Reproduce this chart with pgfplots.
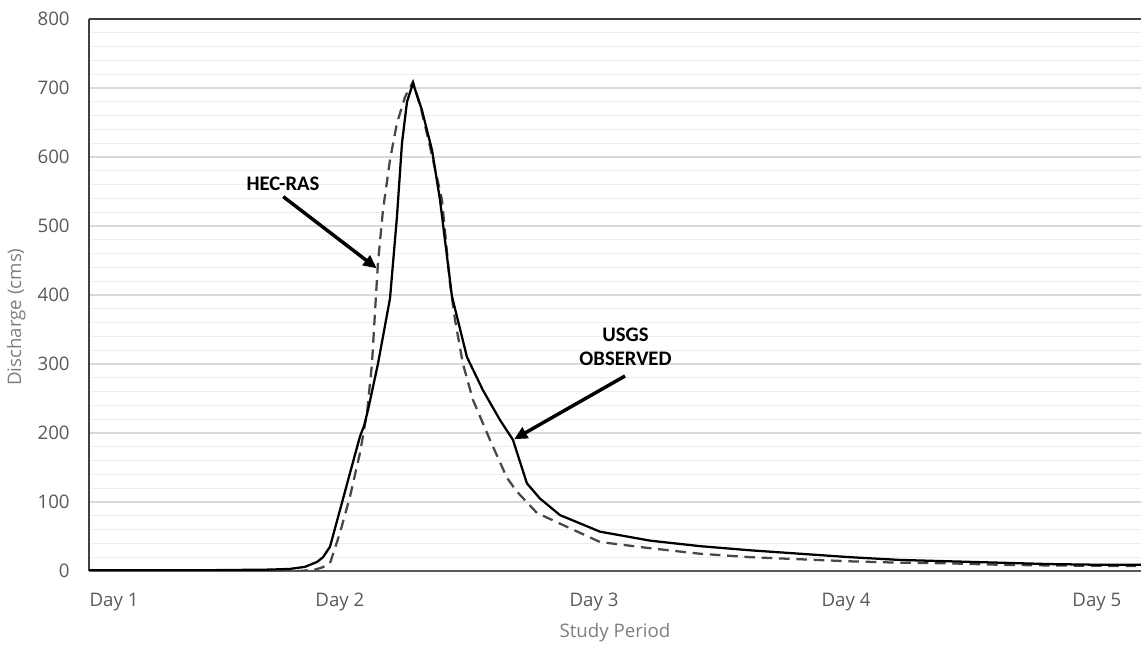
\documentclass[border=0pt]{standalone}
\usepackage{pgfplots}
\pgfplotsset{compat=1.18}
\usepackage{pgfplotstable}
\usetikzlibrary{arrows.meta}
\usepackage{fontspec}
\setmainfont{Open Sans}
\newfontfamily\annfont{Carlito}
\definecolor{tickgray}{HTML}{595959}
\definecolor{titlegray}{HTML}{7F7F7F}
\definecolor{majgrid}{HTML}{D9D9D9}
\definecolor{mingrid}{HTML}{EDEDED}
\definecolor{dashgray}{HTML}{474747}
\definecolor{framegray}{HTML}{404040}

\pgfplotstableread{
h q
0 1
10.57 1
17.24 2
19.14 3
20.57 6
21.71 13
22.29 20
22.95 35
23.90 88
24.86 142
25.81 195
26.19 210
26.57 233
27.52 300
28.67 395
29.33 513
29.81 620
30.29 680
30.86 707
31.71 668
32.67 610
33.43 538
34.57 398
36.00 310
37.52 262
39.14 219
40.38 190
41.71 127
42.95 105
44.86 81
48.67 57
53.43 44
58.19 36
62.95 30
67.71 25
72.48 20
77.24 16
82.00 14
86.76 12
91.52 10
96.29 9
100.2 9
}\observed

\pgfplotstableread{
h q
0 0
20.10 0
21.52 2
22.19 5
22.95 11
23.90 55
24.86 108
25.81 171
26.48 229
26.95 300
27.33 398
27.52 446
28.00 523
28.67 596
29.33 649
30.10 687
30.86 709
31.62 670
32.48 615
33.62 538
34.38 417
34.86 364
35.62 300
36.57 248
38.19 190
39.81 135
40.76 115
42.67 84
45.81 62
48.67 42
53.43 33
58.19 25
62.95 20
67.71 17
72.48 14
77.24 12
82.00 11
86.76 9
91.52 8
100.2 7
}\hecras

\begin{document}
\begin{tikzpicture}
\begin{axis}[
  scale only axis, width=789pt, height=414pt,
  xmin=0, xmax=100.2, ymin=0, ymax=800,
  axis x line*=bottom, axis y line*=left,
  x axis line style={draw=tickgray, line width=1.3pt},
  y axis line style={draw=framegray, line width=1.3pt},
  ytick={0,100,...,800}, minor y tick num=4,
  ymajorgrids, yminorgrids,
  major grid style={draw=majgrid, line width=1pt},
  minor grid style={draw=mingrid, line width=0.9pt},
  xtick={2.38,23.9,48.1,72.1,96.0},
  xticklabels={Day 1,Day 2,Day 3,Day 4,Day 5},
  major tick length=0pt, minor tick length=0pt,
  tick style={draw=none},
  ticklabel style={font=\fontsize{14}{16}\selectfont, text=tickgray},
  /pgf/number format/assume math mode=true,
  yticklabel style={xshift=-11pt},
  xticklabel style={yshift=-13pt},
  xlabel={Study Period}, ylabel={Discharge (cms)},
  label style={font=\fontsize{14}{16}\selectfont, text=titlegray},
  xlabel style={at={(axis description cs:0.5,0)}, anchor=center, yshift=-46pt},
  ylabel style={at={(axis description cs:-0.0692,0.46)}, anchor=center},
  clip=true,
]
\addplot[dashgray, line width=1.7pt, dash pattern=on 8pt off 5pt] table[x=h,y=q] {\hecras};
\addplot[black, line width=1.7pt] table[x=h,y=q] {\observed};
\draw[framegray, line width=1.3pt] (rel axis cs:0,1) -- (rel axis cs:1,1);
\node[font=\annfont\bfseries\fontsize{15.5}{17}\selectfont] at (axis cs:18.48,561.6) {HEC-RAS};
\draw[line width=2.6pt, -{Triangle[length=10pt,width=9pt]}] (axis cs:18.50,542.5) -- (axis cs:27.40,438.7);
\node[font=\annfont\bfseries\fontsize{15.5}{17}\selectfont, align=center] at (axis cs:51.10,325.4) {USGS\\[1pt]OBSERVED};
\draw[line width=2.6pt, -{Triangle[length=10pt,width=9pt]}] (axis cs:51.05,282.6) -- (axis cs:40.48,190.9);
\end{axis}
\pgfresetboundingbox
\path[use as bounding box] ([xshift=-66.75pt, yshift=-55.5pt]current axis.south west) rectangle ([yshift=14.25pt]current axis.north east);
\end{tikzpicture}
\end{document}
